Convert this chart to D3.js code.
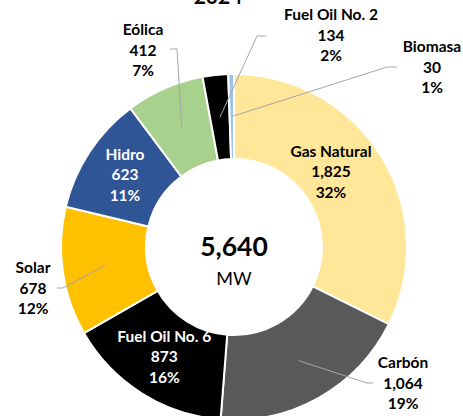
<!DOCTYPE html>
<html>
<head>
<meta charset="utf-8">
<script src="https://cdn.jsdelivr.net/npm/d3@7"></script>
<style>
  html, body { margin: 0; padding: 0; background: #fff; }
</style>
</head>
<body>
<div id="chart"></div>
<script>
// data, clockwise from 12 o'clock
const categories = ["Gas Natural", "Carbón", "Fuel Oil No. 6", "Solar", "Hidro", "Eólica", "Fuel Oil No. 2", "Biomasa"];
const values = [1825, 1064, 873, 678, 623, 412, 134, 30];
const percents = ["32%", "19%", "16%", "12%", "11%", "7%", "2%", "1%"];
const totalLabel = "5,640";
const unitLabel = "MW";
const titleText = "2024";

const sliceColors = ["#FFE699", "#595959", "#000000", "#FFC000", "#2F5597", "#A9D18E", "#000000", "#9DC3E6"];

// labels that Excel moved outside the ring: text center x, first line y, leader elbow
const outside = {
  "Eólica":         { x: 143, y: 35,  elbow: [[170, 49], [177, 49]] },
  "Fuel Oil No. 2": { x: 331, y: 20,  elbow: [[266, 36], [257, 36]] },
  "Biomasa":        { x: 432, y: 52,  elbow: [[397, 67], [387, 67]] },
  "Solar":          { x: 33,  y: 273, elbow: [[57, 288], [63, 288]] },
  "Carbón":         { x: 403, y: 368, elbow: [[373, 383], [367, 383]] }
};
// inside labels nudged a bit like in the original
const insideShift = { "Gas Natural": [-14, -6] };

const width = 463, height = 416;
const cx = 234, cy = 247;
const outerR = 173, innerR = 88;
const lineH = 20.5;
const font = "Lato, 'Open Sans', sans-serif";

const svg = d3.select("#chart").append("svg")
  .attr("width", width)
  .attr("height", height)
  .attr("viewBox", `0 0 ${width} ${height}`);

// title, mostly cut off at the top edge
svg.append("text")
  .attr("x", 218).attr("y", 4)
  .attr("text-anchor", "middle")
  .style("font-family", font)
  .style("font-size", "21px")
  .style("font-weight", "bold")
  .style("fill", "#000")
  .text(titleText);

const g = svg.append("g").attr("transform", `translate(${cx},${cy})`);

const pie = d3.pie().value(d => d.value).sort(null);
const rows = categories.map((c, i) => ({ name: c, value: values[i], pct: percents[i], color: sliceColors[i] }));
const arcs = pie(rows);

const arc = d3.arc().innerRadius(innerR).outerRadius(outerR);
const midArc = d3.arc().innerRadius((innerR + outerR) / 2).outerRadius((innerR + outerR) / 2);

g.selectAll("path.slice")
  .data(arcs)
  .enter().append("path")
  .attr("class", "slice")
  .attr("d", arc)
  .attr("fill", d => d.data.color)
  .attr("stroke", "#fff")
  .attr("stroke-width", 2);

// leader lines
arcs.forEach(d => {
  const o = outside[d.data.name];
  if (!o) return;
  const [px, py] = midArc.centroid(d);
  const pts = [o.elbow[0], o.elbow[1], [px + cx, py + cy]];
  svg.append("path")
    .attr("d", d3.line()(pts))
    .attr("fill", "none")
    .attr("stroke", "#A6A6A6")
    .attr("stroke-width", 1);
});

// labels
arcs.forEach(d => {
  const o = outside[d.data.name];
  let x, y, fill;
  if (o) {
    x = o.x; y = o.y; fill = "#000";
  } else {
    const [px, py] = midArc.centroid(d);
    const s = insideShift[d.data.name] || [0, 0];
    x = px + cx + s[0];
    y = py + cy + s[1] - lineH + 5;
    fill = (d.data.color === "#FFE699") ? "#000" : "#fff";
  }
  const t = svg.append("text")
    .attr("text-anchor", "middle")
    .style("font-family", font)
    .style("font-size", "15.5px")
    .style("font-weight", "bold")
    .style("fill", fill);
  [d.data.name, d3.format(",")(d.data.value), d.data.pct].forEach((s, k) => {
    t.append("tspan").attr("x", x).attr("y", y + k * lineH).text(s);
  });
});

// total in the hole
g.append("text")
  .attr("y", 9)
  .attr("text-anchor", "middle")
  .style("font-family", font)
  .style("font-size", "26.5px")
  .style("font-weight", "bold")
  .style("fill", "#000")
  .text(totalLabel);

g.append("text")
  .attr("y", 38)
  .attr("text-anchor", "middle")
  .style("font-family", font)
  .style("font-size", "18px")
  .style("fill", "#000")
  .text(unitLabel);
</script>
</body>
</html>
